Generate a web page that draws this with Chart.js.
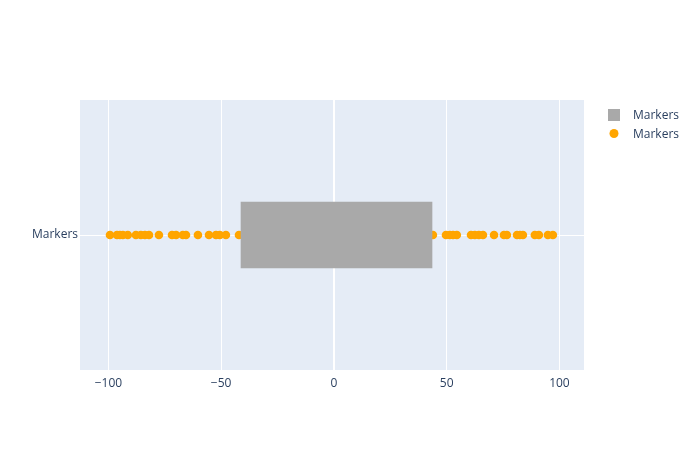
<!DOCTYPE html>
<html><head><meta charset="utf-8">
<script src="https://cdn.jsdelivr.net/npm/chart.js@4/dist/chart.umd.min.js"></script>
<style>html,body{margin:0;padding:0;background:#fff}#wrap{width:700px;height:450px}</style>
</head><body><div id="wrap"><canvas id="c" width="700" height="450"></canvas></div>
<script>
const categories = ["Markers"];
const barLabel = "Markers";
const barRange = [-41.2, 43.5];
const markerLabel = "Markers";
const markerValues = [-99.3, -96.2, -94.9, -93.6, -91.4, -87.8, -85.6, -83.8, -82.0, -77.6,
  -71.8, -70.0, -67.0, -65.6, -60.3, -55.4, -52.3, -50.6, -47.9, -42.1,
  43.9, 49.7, 51.4, 52.8, 54.5, 60.8, 62.5, 64.3, 66.1, 71.0,
  75.4, 76.7, 81.2, 82.5, 83.8, 89.1, 90.9, 94.9, 97.1];
const xTicks = [-100, -50, 0, 50, 100];
const xMin = -112.6, xMax = 110.9;

const FONT = "'Open Sans', 'Noto Sans', sans-serif";
const TXT = "#2a3f5f";
const BAR_COLOR = "#a9a9a9";
const MARK_COLOR = "#ffa500";

const bgPlugin = {
  id: 'bg',
  beforeDraw(chart) {
    const a = chart.chartArea, ctx = chart.ctx;
    ctx.save();
    ctx.fillStyle = "#e5ecf6";
    ctx.fillRect(a.left, a.top, a.right - a.left, a.bottom - a.top);
    ctx.restore();
  }
};
const legendPlugin = {
  id: 'customLegend',
  afterDraw(chart) {
    const ctx = chart.ctx;
    ctx.save();
    ctx.font = "12px " + FONT;
    ctx.textBaseline = "middle";
    ctx.textAlign = "left";
    ctx.fillStyle = BAR_COLOR;
    ctx.fillRect(608, 109, 12, 12);
    ctx.fillStyle = TXT;
    ctx.fillText(chart.data.datasets[0].label, 633, 115.5);
    ctx.fillStyle = MARK_COLOR;
    ctx.beginPath(); ctx.arc(614, 133.5, 4.5, 0, Math.PI * 2); ctx.fill();
    ctx.fillStyle = TXT;
    ctx.fillText(chart.data.datasets[1].label, 633, 134.5);
    ctx.restore();
  }
};

new Chart(document.getElementById('c'), {
  type: 'bar',
  data: {
    labels: categories,
    datasets: [
      { type: 'bar', label: barLabel, indexAxis: 'y', data: [barRange],
        backgroundColor: BAR_COLOR, barThickness: 66, borderWidth: 0, order: 0 },
      { type: 'scatter', label: markerLabel,
        data: markerValues.map(v => ({ x: v, y: categories[0] })),
        backgroundColor: MARK_COLOR, borderWidth: 0, pointRadius: 4.3, order: 1 }
    ]
  },
  options: {
    responsive: false, animation: false, indexAxis: 'y',
    layout: { padding: { left: 0, top: 100, right: 116, bottom: 52 } },
    plugins: { legend: { display: false }, tooltip: { enabled: false } },
    scales: {
      x: {
        type: 'linear', min: xMin, max: xMax,
        afterBuildTicks(s) { s.ticks = xTicks.map(v => ({ value: v })); },
        afterFit(s) { s.height = 28; },
        grid: { color: '#ffffff', lineWidth: c => (c.tick && c.tick.value === 0) ? 2 : 1, drawTicks: false },
        border: { display: false },
        ticks: { color: TXT, font: { family: FONT, size: 12 }, padding: 6,
          callback: v => (v < 0 ? '\u2212' + Math.abs(v) : String(v)) }
      },
      y: {
        type: 'category', offset: true,
        afterFit(s) { s.width = 80; },
        grid: { color: '#ffffff', lineWidth: 1, drawTicks: false, offset: false },
        border: { display: false },
        ticks: { color: TXT, font: { family: FONT, size: 12 }, padding: 2 }
      }
    }
  },
  plugins: [bgPlugin, legendPlugin]
});
</script></body></html>
